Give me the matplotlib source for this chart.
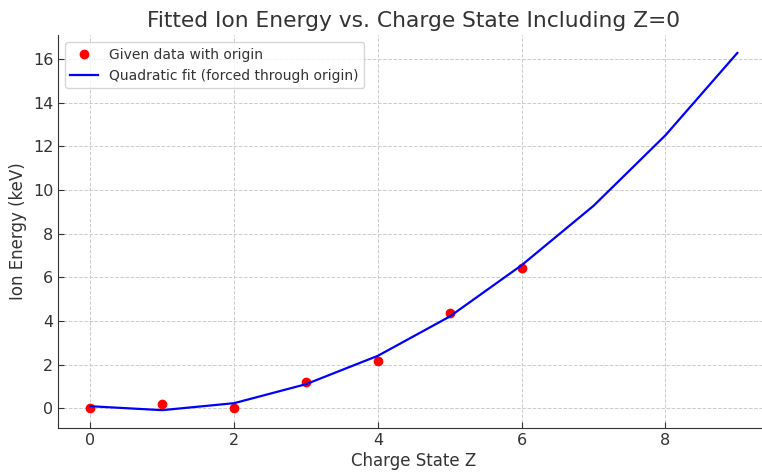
import matplotlib
matplotlib.use('Agg')
from matplotlib import pyplot as plt

# Charge states and measured ion energies (keV)
charge_data = [0, 1, 2, 3, 4, 5, 6]
energy_data = [0.0, 0.18, 0.02, 1.18, 2.18, 4.36, 6.4]

# Quadratic fit evaluated at integer charge states
charge_fit = [0, 1, 2, 3, 4, 5, 6, 7, 8, 9]
energy_fit = [0.09, -0.09, 0.23, 1.1, 2.4, 4.2, 6.55, 9.27, 12.5, 16.27]

text_color = '#333333'
plt.rcParams['text.color'] = text_color
plt.rcParams['axes.labelcolor'] = text_color
plt.rcParams['xtick.color'] = text_color
plt.rcParams['ytick.color'] = text_color
plt.rcParams['axes.edgecolor'] = text_color

fig = plt.figure(figsize=(7.62, 4.74), dpi=100)
ax = fig.add_axes([0.0761, 0.097, 0.934, 0.829])

ax.plot(charge_data, energy_data, 'o', color='red', markersize=6,
        label='Given data with origin')
ax.plot(charge_fit, energy_fit, '-', color='blue', linewidth=1.6,
        label='Quadratic fit (forced through origin)')

ax.set_title('Fitted Ion Energy vs. Charge State Including Z=0', fontsize=15.7)
ax.set_xlabel('Charge State Z', fontsize=12, labelpad=3)
ax.set_ylabel('Ion Energy (keV)', fontsize=12)
ax.tick_params(labelsize=11.5, direction='in', length=4)
ax.set_yticks([0, 2, 4, 6, 8, 10, 12, 14, 16])

ax.grid(True, linestyle='--', color='#cccccc', linewidth=0.7)
ax.spines['top'].set_visible(False)
ax.spines['right'].set_visible(False)

ax.legend(loc='upper left', fontsize=10, framealpha=0.8)

plt.savefig('out.png', dpi=100)
